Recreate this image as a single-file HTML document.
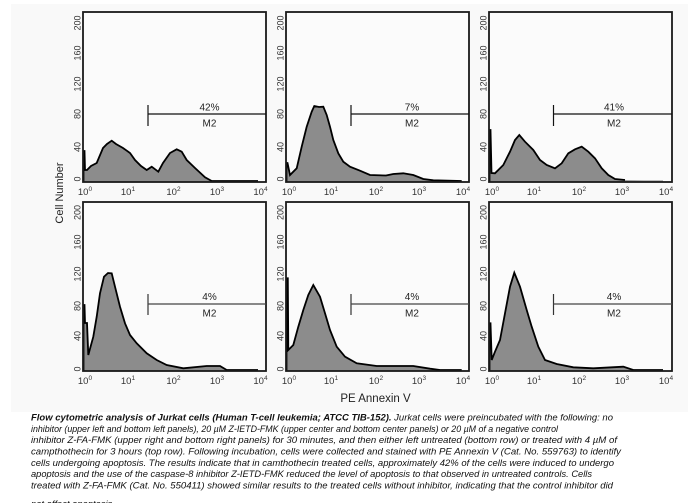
<!DOCTYPE html>
<html><head><meta charset="utf-8"><style>
html,body{margin:0;padding:0;background:#fff;}
svg{display:block;}
text{font-family:"Liberation Sans",Arial,sans-serif;}
</style></head><body>
<svg width="698" height="503" viewBox="0 0 698 503" xmlns="http://www.w3.org/2000/svg">
<rect x="0" y="0" width="698" height="503" fill="#fff"/>
<rect x="11" y="4" width="677" height="408" fill="#f9f9f9"/>

<!-- Cell Number / PE Annexin V -->
<text transform="translate(63,193) rotate(-90)" text-anchor="middle" font-size="11" fill="#222">Cell Number</text>
<text x="375.5" y="402" text-anchor="middle" font-size="11.5" fill="#222">PE Annexin V</text>

<!-- ===== Panel 1 ===== -->
<g transform="translate(83,182)">
<rect x="0" y="-170" width="183" height="170" fill="#fbfbfb"/>
<polygon fill="#8c8c8c" points="0,0 0.5,-31 1.5,-31 2,-12 4,-12 8,-16 13.7,-19 20,-34 24,-38 28.7,-41.3 33,-38 40,-34 47,-29 52,-22 58,-16 63.7,-12 68.7,-15.3 75.3,-10.3 80,-19 87,-29 93.7,-32.7 98.7,-30.3 103.7,-22 112,-14 122,-4.7 128.7,-1 175,-1 175,0"/>
<polyline fill="none" stroke="#000" stroke-width="1.8" points="0.5,0 0.5,-31 1.5,-31 2,-12 4,-12 8,-16 13.7,-19 20,-34 24,-38 28.7,-41.3 33,-38 40,-34 47,-29 52,-22 58,-16 63.7,-12 68.7,-15.3 75.3,-10.3 80,-19 87,-29 93.7,-32.7 98.7,-30.3 103.7,-22 112,-14 122,-4.7 128.7,-1 175,-1"/>
<rect x="0" y="-170" width="183" height="170" fill="none" stroke="#1a1a1a" stroke-width="1.8"/>
<line x1="65" y1="-77" x2="65" y2="-56" stroke="#111" stroke-width="1.2"/>
<line x1="65" y1="-68" x2="183" y2="-68" stroke="#111" stroke-width="1.2"/>
<text x="126.5" y="-71.5" text-anchor="middle" font-size="10" fill="#222">42%</text>
<text x="126.5" y="-55.5" text-anchor="middle" font-size="10" fill="#222">M2</text>
</g>

<!-- ===== Panel 2 ===== -->
<g transform="translate(286,182)">
<rect x="0" y="-170" width="183" height="170" fill="#fbfbfb"/>
<polygon fill="#8c8c8c" points="0,0 0.5,-19 1.5,-19 4,-7 10.7,-13.7 15.7,-35.3 20.7,-55.3 25.7,-70.3 28.3,-76 33,-75 37.3,-75.3 40.7,-67 44,-55.3 47.3,-42 52.3,-28.7 57.3,-20.3 64,-15.3 74,-11.3 84,-7 100,-6.5 107.3,-8 117.3,-8.7 127.3,-7 137.3,-3 147.3,-1.7 175.7,-1 175.7,0"/>
<polyline fill="none" stroke="#000" stroke-width="1.8" points="0.5,0 0.5,-19 1.5,-19 4,-7 10.7,-13.7 15.7,-35.3 20.7,-55.3 25.7,-70.3 28.3,-76 33,-75 37.3,-75.3 40.7,-67 44,-55.3 47.3,-42 52.3,-28.7 57.3,-20.3 64,-15.3 74,-11.3 84,-7 100,-6.5 107.3,-8 117.3,-8.7 127.3,-7 137.3,-3 147.3,-1.7 175.7,-1"/>
<rect x="0" y="-170" width="183" height="170" fill="none" stroke="#1a1a1a" stroke-width="1.8"/>
<line x1="65" y1="-77" x2="65" y2="-56" stroke="#111" stroke-width="1.2"/>
<line x1="65" y1="-68" x2="183" y2="-68" stroke="#111" stroke-width="1.2"/>
<text x="126" y="-71.5" text-anchor="middle" font-size="10" fill="#222">7%</text>
<text x="126" y="-55.5" text-anchor="middle" font-size="10" fill="#222">M2</text>
</g>

<!-- ===== Panel 3 ===== -->
<g transform="translate(489,182)">
<rect x="0" y="-170" width="183" height="170" fill="#fbfbfb"/>
<polygon fill="#8c8c8c" points="0,0 0.5,-52 1.5,-52 2.5,-9 6,-8.7 14.3,-17 21,-30.3 26,-42 30.3,-47 36,-40.3 44.3,-32 51,-22 57.7,-17 66,-13.7 72.7,-18.7 79.3,-28.7 86,-32.7 92.7,-35.3 99.3,-30.3 106,-23.7 112.7,-13.7 119.3,-7 126,-3 136,-2 174,-1 174,0"/>
<polyline fill="none" stroke="#000" stroke-width="1.8" points="0.5,0 0.5,-52 1.5,-52 2.5,-9 6,-8.7 14.3,-17 21,-30.3 26,-42 30.3,-47 36,-40.3 44.3,-32 51,-22 57.7,-17 66,-13.7 72.7,-18.7 79.3,-28.7 86,-32.7 92.7,-35.3 99.3,-30.3 106,-23.7 112.7,-13.7 119.3,-7 126,-3 136,-2"/>
<line x1="136" y1="-1.2" x2="174" y2="-1.2" stroke="#aaa" stroke-width="1.2"/>
<rect x="0" y="-170" width="183" height="170" fill="none" stroke="#1a1a1a" stroke-width="1.8"/>
<line x1="64.5" y1="-77" x2="64.5" y2="-56" stroke="#111" stroke-width="1.2"/>
<line x1="64.5" y1="-68" x2="183" y2="-68" stroke="#111" stroke-width="1.2"/>
<text x="125" y="-71.5" text-anchor="middle" font-size="10" fill="#222">41%</text>
<text x="125" y="-55.5" text-anchor="middle" font-size="10" fill="#222">M2</text>
</g>

<!-- ===== Panel 4 ===== -->
<g transform="translate(83,371)">
<rect x="0" y="-169" width="183" height="169" fill="#fbfbfb"/>
<polygon fill="#8c8c8c" points="0,0 0.5,-66 1.5,-66 2,-48 4,-48 5.3,-16 10.3,-34.3 13.7,-54.3 17,-77.7 21,-94.3 25,-98 28.7,-97.7 32,-84.3 37,-64.3 42,-47.7 47,-36 53.7,-27.7 63.7,-17.7 73.7,-11 83.7,-6 100.3,-2.7 123.7,-5 137,-5 143.7,-1 175,-1 175,0"/>
<polyline fill="none" stroke="#000" stroke-width="1.8" points="0.5,0 0.5,-66 1.5,-66 2,-48 4,-48 5.3,-16 10.3,-34.3 13.7,-54.3 17,-77.7 21,-94.3 25,-98 28.7,-97.7 32,-84.3 37,-64.3 42,-47.7 47,-36 53.7,-27.7 63.7,-17.7 73.7,-11 83.7,-6 100.3,-2.7 123.7,-5 137,-5 143.7,-1 175,-1"/>
<rect x="0" y="-169" width="183" height="169" fill="none" stroke="#1a1a1a" stroke-width="1.8"/>
<line x1="65" y1="-77" x2="65" y2="-56" stroke="#333" stroke-width="1.2"/>
<line x1="65" y1="-67" x2="183" y2="-67" stroke="#444" stroke-width="1.2"/>
<text x="126.5" y="-71" text-anchor="middle" font-size="10" fill="#222">4%</text>
<text x="126.5" y="-54.5" text-anchor="middle" font-size="10" fill="#222">M2</text>
</g>

<!-- ===== Panel 5 ===== -->
<g transform="translate(286,371)">
<rect x="0" y="-169" width="183" height="169" fill="#fbfbfb"/>
<polygon fill="#8c8c8c" points="0,0 0.5,-92.7 1.8,-92.7 2.3,-21 7.3,-26 12.3,-44.3 17.3,-61 22.3,-76 27.3,-86 34,-74.3 39,-57.7 44,-41 50.7,-24.3 59,-14.3 70.7,-7.7 90.7,-5 127.3,-5 144,-2.3 154,-1 175.7,-1 175.7,0"/>
<polyline fill="none" stroke="#000" stroke-width="1.8" points="0.5,0 0.5,-92.7 1.8,-92.7 2.3,-21 7.3,-26 12.3,-44.3 17.3,-61 22.3,-76 27.3,-86 34,-74.3 39,-57.7 44,-41 50.7,-24.3 59,-14.3 70.7,-7.7 90.7,-5 127.3,-5 144,-2.3 154,-1 175.7,-1"/>
<rect x="0" y="-169" width="183" height="169" fill="none" stroke="#1a1a1a" stroke-width="1.8"/>
<line x1="65" y1="-77" x2="65" y2="-56" stroke="#333" stroke-width="1.2"/>
<line x1="65" y1="-67" x2="183" y2="-67" stroke="#444" stroke-width="1.2"/>
<text x="126" y="-71" text-anchor="middle" font-size="10" fill="#222">4%</text>
<text x="126" y="-54.5" text-anchor="middle" font-size="10" fill="#222">M2</text>
</g>

<!-- ===== Panel 6 ===== -->
<g transform="translate(489,371)">
<rect x="0" y="-169" width="183" height="169" fill="#fbfbfb"/>
<polygon fill="#8c8c8c" points="0,0 0.5,-47.7 1.5,-47.7 2.7,-11 6,-19.3 11,-31 16,-57.7 21,-84.3 25.3,-98.3 31,-84.3 37.7,-61 42.7,-44.3 49.3,-24.3 56,-11 67.7,-7 84.3,-3.7 104.3,-2.7 134.3,-4.3 144.3,-1 174,-1 174,0"/>
<polyline fill="none" stroke="#000" stroke-width="1.8" points="0.5,0 0.5,-47.7 1.5,-47.7 2.7,-11 6,-19.3 11,-31 16,-57.7 21,-84.3 25.3,-98.3 31,-84.3 37.7,-61 42.7,-44.3 49.3,-24.3 56,-11 67.7,-7 84.3,-3.7 104.3,-2.7 134.3,-4.3 144.3,-1 174,-1"/>
<rect x="0" y="-169" width="183" height="169" fill="none" stroke="#1a1a1a" stroke-width="1.8"/>
<line x1="64.5" y1="-77" x2="64.5" y2="-56" stroke="#333" stroke-width="1.2"/>
<line x1="64.5" y1="-67" x2="183" y2="-67" stroke="#444" stroke-width="1.2"/>
<text x="125" y="-71" text-anchor="middle" font-size="10" fill="#222">4%</text>
<text x="125" y="-54.5" text-anchor="middle" font-size="10" fill="#222">M2</text>
</g>

<!-- Y tick labels -->
<g font-size="9" fill="#333" text-anchor="middle">
<text transform="translate(80.5,23) rotate(-90)">200</text>
<text transform="translate(80.5,53) rotate(-90)">160</text>
<text transform="translate(80.5,84) rotate(-90)">120</text>
<text transform="translate(80.5,114) rotate(-90)">80</text>
<text transform="translate(80.5,147) rotate(-90)">40</text>
<text transform="translate(80.5,179) rotate(-90)">0</text>
<text transform="translate(283.5,23) rotate(-90)">200</text>
<text transform="translate(283.5,53) rotate(-90)">160</text>
<text transform="translate(283.5,84) rotate(-90)">120</text>
<text transform="translate(283.5,114) rotate(-90)">80</text>
<text transform="translate(283.5,147) rotate(-90)">40</text>
<text transform="translate(283.5,179) rotate(-90)">0</text>
<text transform="translate(486.5,23) rotate(-90)">200</text>
<text transform="translate(486.5,53) rotate(-90)">160</text>
<text transform="translate(486.5,84) rotate(-90)">120</text>
<text transform="translate(486.5,114) rotate(-90)">80</text>
<text transform="translate(486.5,147) rotate(-90)">40</text>
<text transform="translate(486.5,179) rotate(-90)">0</text>
<text transform="translate(80.5,212.5) rotate(-90)">200</text>
<text transform="translate(80.5,242) rotate(-90)">160</text>
<text transform="translate(80.5,274) rotate(-90)">120</text>
<text transform="translate(80.5,306) rotate(-90)">80</text>
<text transform="translate(80.5,336) rotate(-90)">40</text>
<text transform="translate(80.5,369) rotate(-90)">0</text>
<text transform="translate(283.5,212.5) rotate(-90)">200</text>
<text transform="translate(283.5,242) rotate(-90)">160</text>
<text transform="translate(283.5,274) rotate(-90)">120</text>
<text transform="translate(283.5,306) rotate(-90)">80</text>
<text transform="translate(283.5,336) rotate(-90)">40</text>
<text transform="translate(283.5,369) rotate(-90)">0</text>
<text transform="translate(486.5,212.5) rotate(-90)">200</text>
<text transform="translate(486.5,242) rotate(-90)">160</text>
<text transform="translate(486.5,274) rotate(-90)">120</text>
<text transform="translate(486.5,306) rotate(-90)">80</text>
<text transform="translate(486.5,336) rotate(-90)">40</text>
<text transform="translate(486.5,369) rotate(-90)">0</text>
</g>

<!-- X tick labels -->
<g font-size="9.5" fill="#333" text-anchor="middle">
<text x="85" y="195">10<tspan dy="-4" font-size="6.5">0</tspan></text>
<text x="128" y="195">10<tspan dy="-4" font-size="6.5">1</tspan></text>
<text x="173.5" y="195">10<tspan dy="-4" font-size="6.5">2</tspan></text>
<text x="217" y="195">10<tspan dy="-4" font-size="6.5">3</tspan></text>
<text x="260.5" y="195">10<tspan dy="-4" font-size="6.5">4</tspan></text>
<text x="289" y="195">10<tspan dy="-4" font-size="6.5">0</tspan></text>
<text x="331" y="195">10<tspan dy="-4" font-size="6.5">1</tspan></text>
<text x="376" y="195">10<tspan dy="-4" font-size="6.5">2</tspan></text>
<text x="419" y="195">10<tspan dy="-4" font-size="6.5">3</tspan></text>
<text x="463" y="195">10<tspan dy="-4" font-size="6.5">4</tspan></text>
<text x="492" y="195">10<tspan dy="-4" font-size="6.5">0</tspan></text>
<text x="534" y="195">10<tspan dy="-4" font-size="6.5">1</tspan></text>
<text x="579" y="195">10<tspan dy="-4" font-size="6.5">2</tspan></text>
<text x="622" y="195">10<tspan dy="-4" font-size="6.5">3</tspan></text>
<text x="666" y="195">10<tspan dy="-4" font-size="6.5">4</tspan></text>
<text x="85" y="384">10<tspan dy="-4" font-size="6.5">0</tspan></text>
<text x="128" y="384">10<tspan dy="-4" font-size="6.5">1</tspan></text>
<text x="173.5" y="384">10<tspan dy="-4" font-size="6.5">2</tspan></text>
<text x="217" y="384">10<tspan dy="-4" font-size="6.5">3</tspan></text>
<text x="260.5" y="384">10<tspan dy="-4" font-size="6.5">4</tspan></text>
<text x="289" y="384">10<tspan dy="-4" font-size="6.5">0</tspan></text>
<text x="331" y="384">10<tspan dy="-4" font-size="6.5">1</tspan></text>
<text x="376" y="384">10<tspan dy="-4" font-size="6.5">2</tspan></text>
<text x="419" y="384">10<tspan dy="-4" font-size="6.5">3</tspan></text>
<text x="463" y="384">10<tspan dy="-4" font-size="6.5">4</tspan></text>
<text x="492" y="384">10<tspan dy="-4" font-size="6.5">0</tspan></text>
<text x="534" y="384">10<tspan dy="-4" font-size="6.5">1</tspan></text>
<text x="579" y="384">10<tspan dy="-4" font-size="6.5">2</tspan></text>
<text x="622" y="384">10<tspan dy="-4" font-size="6.5">3</tspan></text>
<text x="666" y="384">10<tspan dy="-4" font-size="6.5">4</tspan></text>
</g>

<!-- Caption -->
<g font-size="9.4" font-style="italic" fill="#111">
<text x="31" y="420.5" textLength="582" lengthAdjust="spacingAndGlyphs"><tspan font-weight="bold">Flow cytometric analysis of Jurkat cells (Human T-cell leukemia; ATCC TIB-152).</tspan> Jurkat cells were preincubated with the following: no</text>
<text x="31" y="431.8" textLength="527" lengthAdjust="spacingAndGlyphs">inhibitor (upper left and bottom left panels), 20 µM Z-IETD-FMK (upper center and bottom center panels) or 20 µM of a negative control</text>
<text x="31" y="443.2" textLength="586" lengthAdjust="spacingAndGlyphs">inhibitor Z-FA-FMK (upper right and bottom right panels) for 30 minutes, and then either left untreated (bottom row) or treated with 4 µM of</text>
<text x="31" y="454.5" textLength="590" lengthAdjust="spacingAndGlyphs">campthothecin for 3 hours (top row). Following incubation, cells were collected and stained with PE Annexin V (Cat. No. 559763) to identify</text>
<text x="31" y="465.8" textLength="583" lengthAdjust="spacingAndGlyphs">cells undergoing apoptosis. The results indicate that in camthothecin treated cells, approximately 42% of the cells were induced to undergo</text>
<text x="31" y="477.2" textLength="561" lengthAdjust="spacingAndGlyphs">apoptosis and the use of the caspase-8 inhibitor Z-IETD-FMK reduced the level of apoptosis to that observed in untreated controls. Cells</text>
<text x="31" y="488.5" textLength="582" lengthAdjust="spacingAndGlyphs">treated with Z-FA-FMK (Cat. No. 550411) showed similar results to the treated cells without inhibitor, indicating that the control inhibitor did</text>
<text x="31" y="507">not affect apoptosis.</text>
</g>
</svg>
</body></html>
